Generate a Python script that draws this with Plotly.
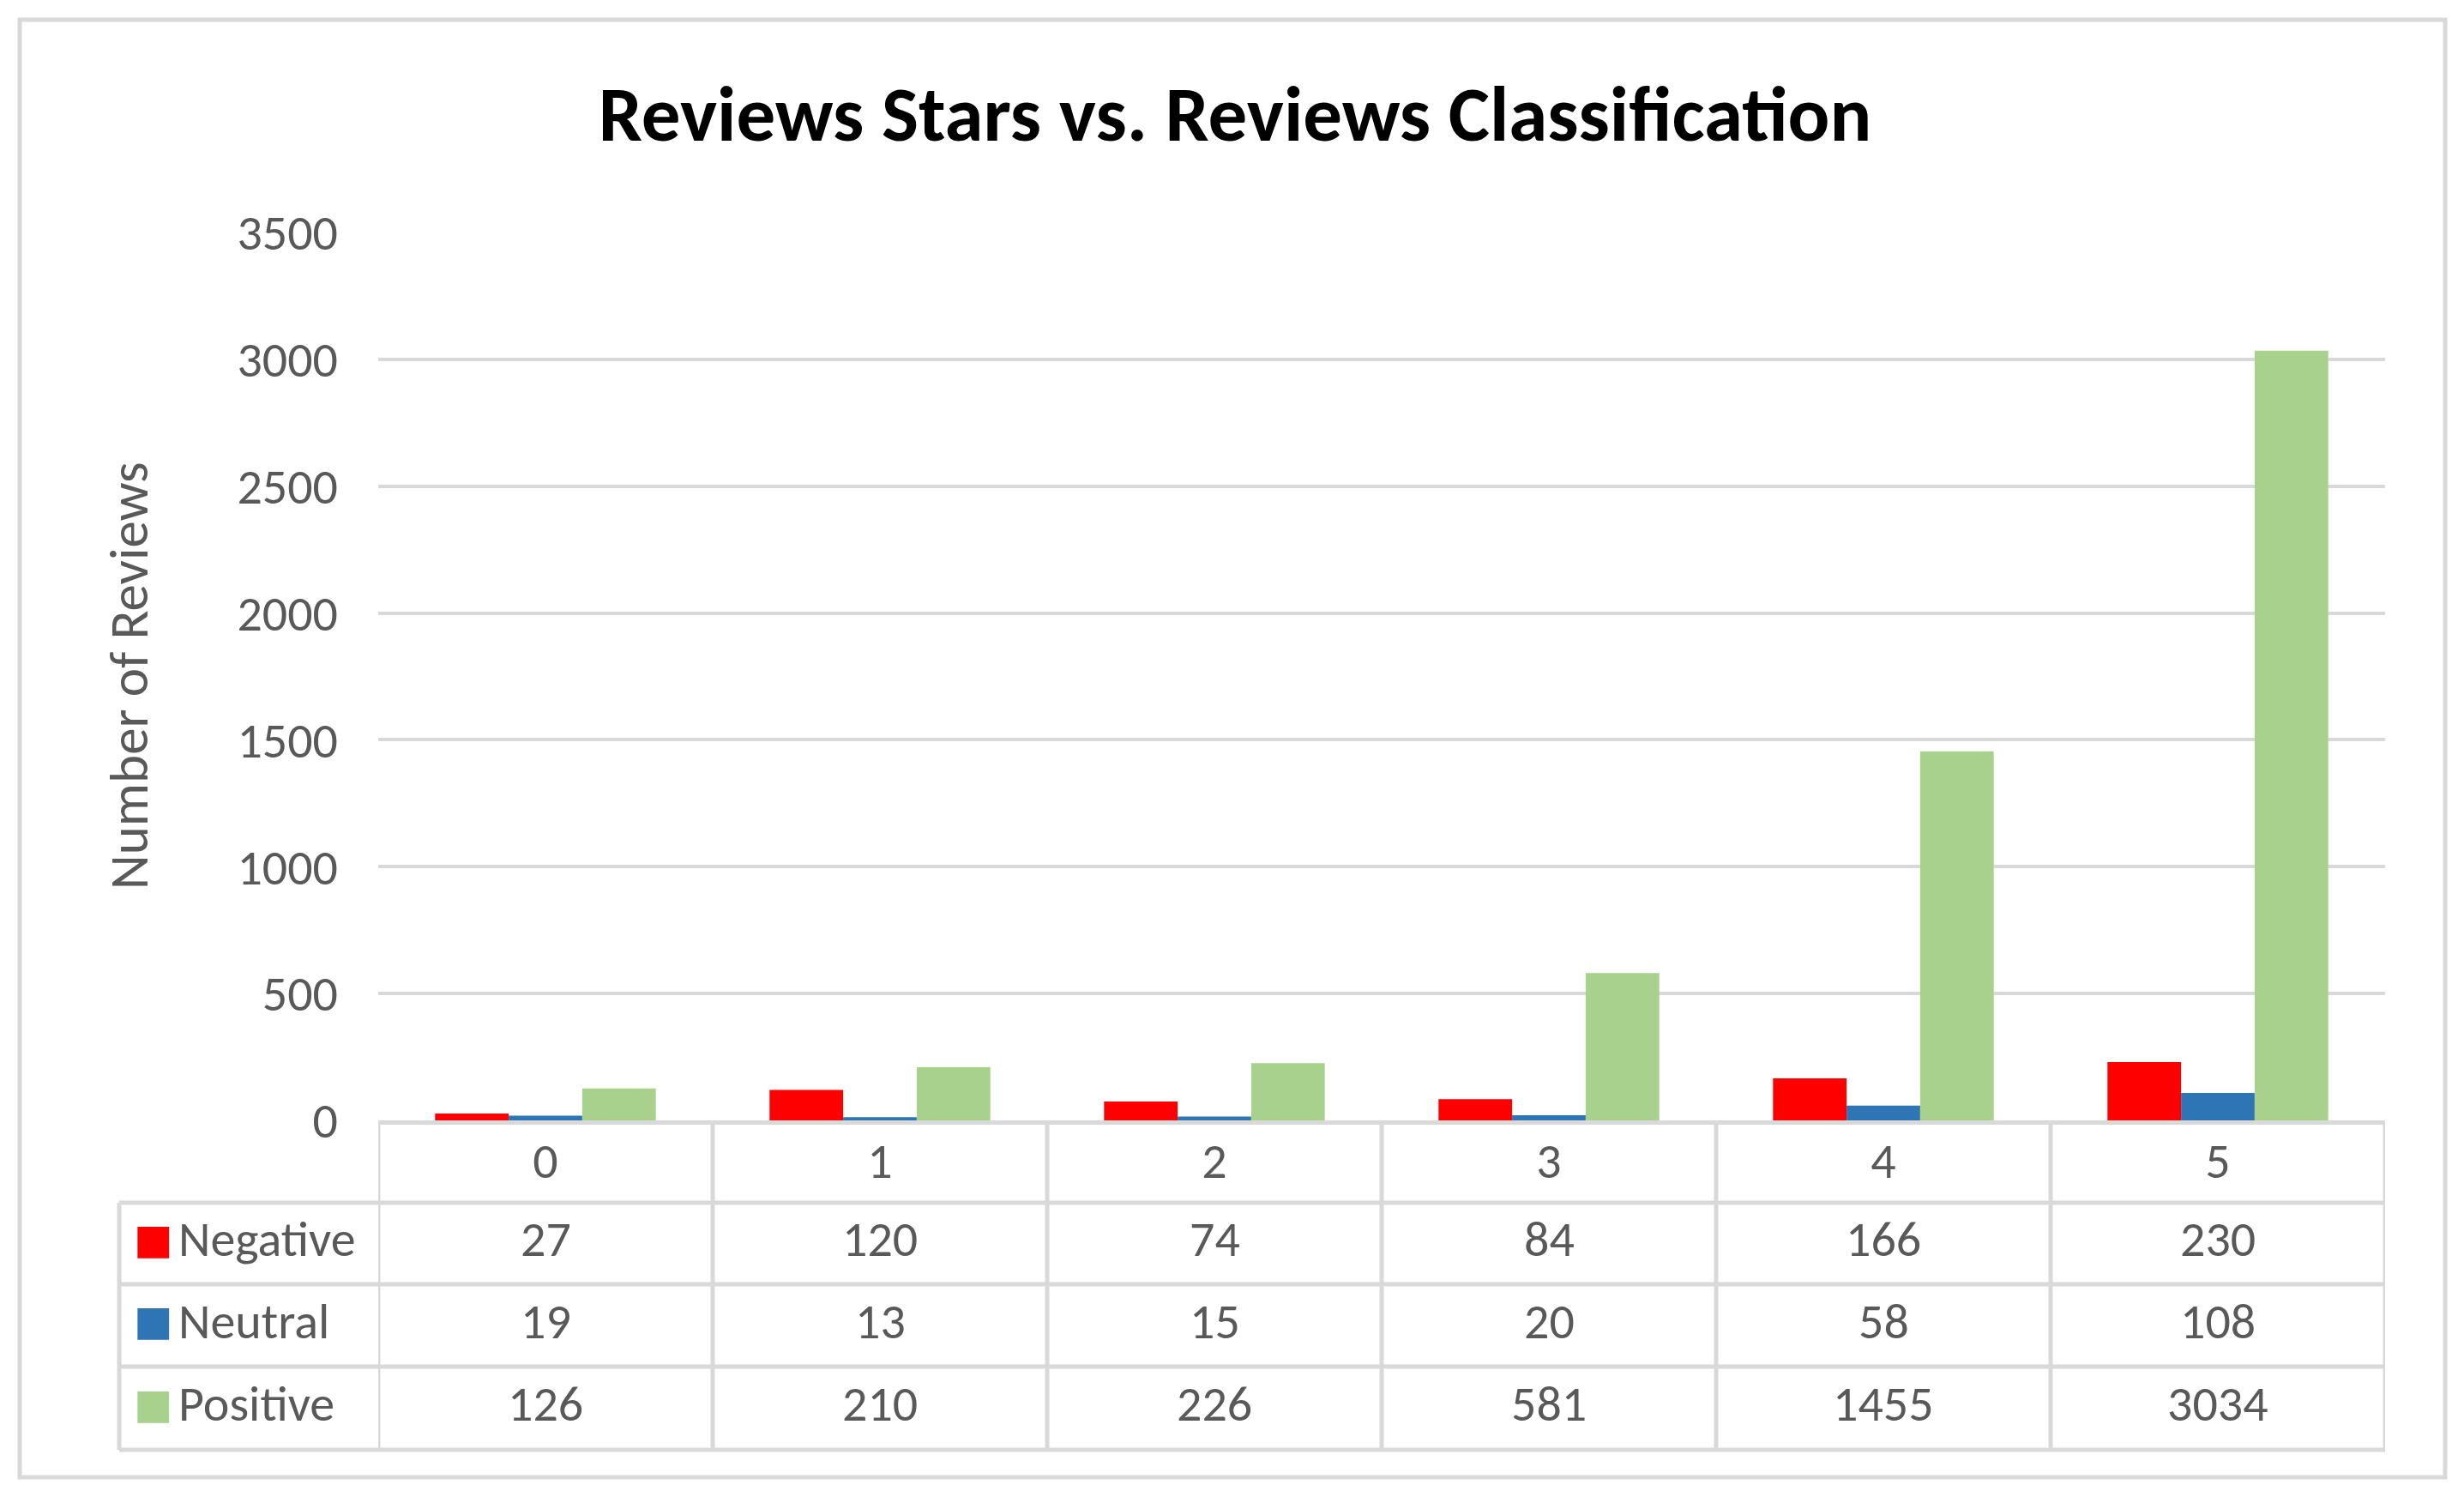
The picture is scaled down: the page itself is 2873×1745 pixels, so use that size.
import plotly.graph_objects as go

stars = ["0", "1", "2", "3", "4", "5"]
negative = [27, 120, 74, 84, 166, 230]
neutral = [19, 13, 15, 20, 58, 108]
positive = [126, 210, 226, 581, 1455, 3034]
series_names = ["Negative", "Neutral", "Positive"]
series_colors = ["#FF0000", "#2E75B6", "#A9D18E"]
y_ticks = [0, 500, 1000, 1500, 2000, 2500, 3000, 3500]

W, H = 2873, 1745
OFF = 8  # page body margin
FONT = "Carlito, 'Liberation Sans Narrow', Lato, sans-serif"
GREY = "#595959"
LINE = "#D9D9D9"


def px(x):
    return (x - OFF) / W


def py(y):
    return 1 - (y - OFF) / H


# table geometry in pixels
tab_left, plot_left, plot_right = 139, 441, 2781
row_edges = [1306, 1402, 1497, 1593, 1690]

fig = go.Figure()
for name, vals, col in zip(series_names, [negative, neutral, positive], series_colors):
    fig.add_trace(go.Bar(x=stars, y=vals, name=name, marker_color=col,
                         marker_line_width=0, showlegend=False))

shapes = []
# outer chart border
shapes.append(dict(type="rect", xref="paper", yref="paper", x0=px(23), x1=px(2851),
                   y0=py(1722), y1=py(23), line=dict(color=LINE, width=5)))
# table horizontal lines
for y in row_edges[1:]:
    shapes.append(dict(type="line", xref="paper", yref="paper", x0=px(tab_left), x1=px(plot_right),
                       y0=py(y), y1=py(y), line=dict(color=LINE, width=5)))
# table vertical lines at category boundaries
for i in range(len(stars) + 1):
    shapes.append(dict(type="line", xref="x", yref="paper", x0=i - 0.5, x1=i - 0.5,
                       y0=py(row_edges[-1]), y1=py(row_edges[0]), line=dict(color=LINE, width=5)))
shapes.append(dict(type="line", xref="paper", yref="paper", x0=px(tab_left), x1=px(tab_left),
                   y0=py(row_edges[-1]), y1=py(row_edges[1]), line=dict(color=LINE, width=5)))

annotations = []
for r, (name, vals, col) in enumerate(zip(series_names, [negative, neutral, positive], series_colors)):
    yc = py((row_edges[r + 1] + row_edges[r + 2]) / 2 - 5)
    # legend key square + series name
    annotations.append(dict(xref="paper", yref="paper", x=px(154), y=yc, xanchor="left", yanchor="middle",
                            showarrow=False, text="■", font=dict(family=FONT, size=76, color=col)))
    annotations.append(dict(xref="paper", yref="paper", x=px(206), y=yc, xanchor="left", yanchor="middle",
                            showarrow=False, text=name, font=dict(family=FONT, size=58, color=GREY)))
    for s, v in zip(stars, vals):
        annotations.append(dict(xref="x", yref="paper", x=s, y=yc, yanchor="middle", showarrow=False,
                                text=str(v), font=dict(family=FONT, size=58, color=GREY)))

annotations.append(dict(xref="paper", yref="paper", x=px(150), y=py(788), xanchor="center",
                        yanchor="middle", textangle=-90, showarrow=False, text="Number of Reviews",
                        font=dict(family=FONT, size=63, color=GREY)))

fig.update_layout(
    width=W, height=H,
    margin=dict(l=0, r=0, t=0, b=0, autoexpand=False),
    paper_bgcolor="white", plot_bgcolor="white",
    title=dict(text="<b>Reviews Stars vs. Reviews Classification</b>", x=px(1440), xanchor="center",
               y=py(132), yanchor="middle", font=dict(family=FONT, size=91, color="black")),
    barmode="group", bargap=0.34, bargroupgap=0,
    xaxis=dict(type="category", domain=[px(plot_left), px(plot_right)], range=[-0.5, 5.5],
               automargin=False, showline=True, linecolor=LINE, linewidth=5, showgrid=False,
               ticks="", ticklabelstandoff=-8, tickfont=dict(family=FONT, size=58, color=GREY)),
    yaxis=dict(domain=[py(row_edges[0]), py(271)], range=[0, 3500], tickvals=y_ticks,
               automargin=False, showgrid=True, gridcolor=LINE, gridwidth=4, zeroline=False,
               showline=False, ticks="", ticklabelstandoff=46,
               tickfont=dict(family=FONT, size=58, color=GREY)),
    shapes=shapes, annotations=annotations,
)

fig.write_html("out.html")
